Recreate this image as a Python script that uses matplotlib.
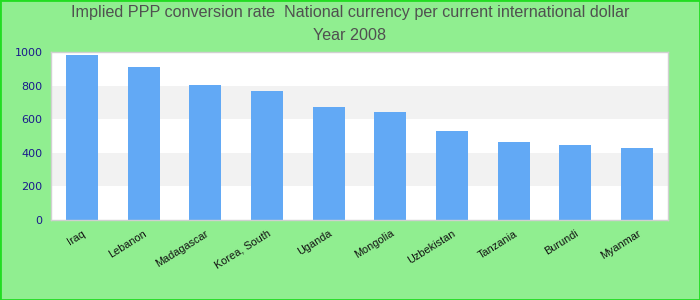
import matplotlib
matplotlib.use("Agg")
import matplotlib.pyplot as plt
import matplotlib.transforms as mtransforms
from matplotlib.patches import Rectangle

countries = ["Iraq", "Lebanon", "Madagascar", "Korea, South", "Uganda",
             "Mongolia", "Uzbekistan", "Tanzania", "Burundi", "Myanmar"]
values = [982, 911, 804, 768, 673, 643, 530, 464, 446, 429]
yticks = [0, 200, 400, 600, 800, 1000]

fig = plt.figure(figsize=(7, 3), dpi=100, facecolor="#90EE90")
ax = fig.add_axes([51/700, 1-220/300, 617/700, 168/300])
ax.set_facecolor("white")

for i, (lo, hi) in enumerate(zip(yticks[:-1], yticks[1:])):
    if i % 2 == 1:
        ax.axhspan(lo, hi, color="#f2f2f2", zorder=0, lw=0)

x = list(range(len(countries)))
ax.bar(x, values, width=0.52, color="#62A9F5", zorder=2)
ax.set_xlim(-0.5, len(countries) - 0.5)
ax.set_ylim(0, 1000)
ax.set_yticks(yticks)
ax.set_yticklabels([str(t) for t in yticks], color="#1a1a8c", fontsize=8)
ax.set_xticks(x)
ax.set_xticklabels(countries, rotation=32, ha="right", va="top", fontsize=7.8,
                   rotation_mode="anchor", color="#111111",
                   family=["Liberation Sans", "DejaVu Sans"])
offset = mtransforms.ScaledTranslation(-6/100, -6/100, fig.dpi_scale_trans)
for lab in ax.get_xticklabels():
    lab.set_transform(lab.get_transform() + offset)
ax.tick_params(length=0, pad=6)
for s in ax.spines.values():
    s.set_color("#d0d0d0")
    s.set_linewidth(1)

fig.text(0.5, 1-13/300, "Implied PPP conversion rate  National currency per current international dollar",
         ha="center", va="center", fontsize=11.6, color="#505050",
         family=["Liberation Sans", "DejaVu Sans"])
fig.text(0.5, 1-36/300, "Year 2008", ha="center", va="center", fontsize=11.6,
         color="#505050", family=["Liberation Sans", "DejaVu Sans"])

fig.add_artist(Rectangle((0, 0), 1, 1, transform=fig.transFigure, fill=False,
                         edgecolor="#22dd22", lw=2))

fig.savefig("out.png", dpi=100, facecolor=fig.get_facecolor())
